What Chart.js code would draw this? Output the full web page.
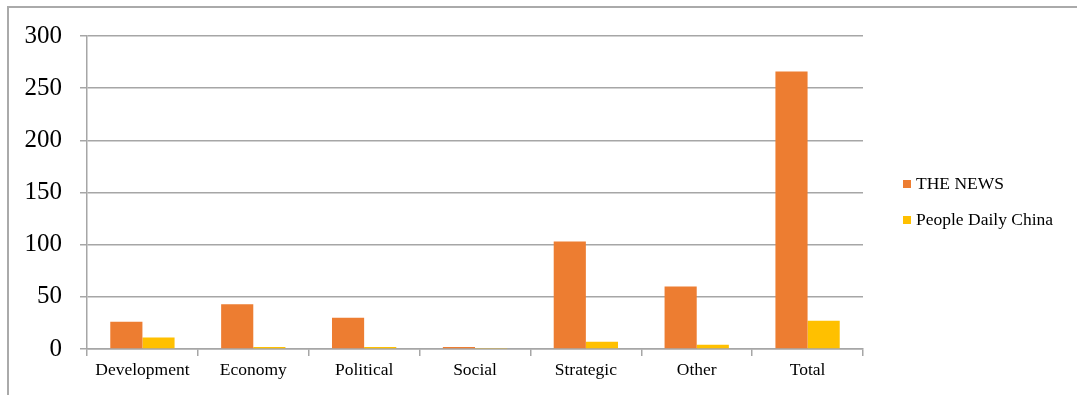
<!DOCTYPE html>
<html>
<head>
<meta charset="utf-8">
<script src="https://cdn.jsdelivr.net/npm/chart.js@4.4.1/dist/chart.umd.min.js"></script>
<style>
  html, body { margin: 0; padding: 0; background: #fff; }
  #wrap { position: relative; width: 1077px; height: 395px; overflow: hidden; }
  #frame { position: absolute; left: 7px; top: 6px; width: 1200px; height: 500px;
           border-top: 2px solid #aaa; border-left: 2px solid #aaa; box-sizing: border-box; }
  canvas { position: absolute; left: 0; top: 0; }
  #legend { position: absolute; left: 903px; top: 172px; font: 17.5px "Liberation Serif", serif; color: #000; }
  #legend .item { display: flex; align-items: center; height: 22px; margin-bottom: 14px; }
  #legend .sw { width: 8px; height: 8px; margin-right: 5px; margin-top: 1px; }
</style>
</head>
<body>
<div id="wrap">
  <div id="frame"></div>
  <canvas id="chart" width="1077" height="395"></canvas>
  <div id="legend"></div>
</div>
<script>
// Data
const categories = ['Development', 'Economy', 'Political', 'Social', 'Strategic', 'Other', 'Total'];
const seriesNames = ['THE NEWS', 'People Daily China'];
const theNews = [26, 43, 30, 2, 103, 60, 266];
const peopleDaily = [11, 2, 2, 1, 7, 4, 27];
const yTicks = [0, 50, 100, 150, 200, 250, 300];
const seriesColors = ['#ED7D31', '#FFC000'];

const gridColor = '#a6a6a6';
const serif = '"Liberation Serif", "Times New Roman", serif';

const ctx = document.getElementById('chart').getContext('2d');
const chart = new Chart(ctx, {
  type: 'bar',
  data: {
    labels: categories,
    datasets: [
      { label: seriesNames[0], data: theNews, backgroundColor: seriesColors[0] },
      { label: seriesNames[1], data: peopleDaily, backgroundColor: seriesColors[1] }
    ]
  },
  options: {
    responsive: false,
    animation: false,
    datasets: { bar: { categoryPercentage: 0.58, barPercentage: 1.0, borderWidth: 0 } },
    layout: { padding: { left: 0, top: 36, right: 1077 - 863, bottom: 0 } },
    plugins: { legend: { display: false }, tooltip: { enabled: false } },
    scales: {
      x: {
        grid: { drawOnChartArea: false, drawTicks: true, tickLength: 7, color: gridColor, lineWidth: 1.5 },
        border: { display: true, color: gridColor, width: 1.5 },
        ticks: { color: '#000', font: { family: serif, size: 17.5 }, padding: 4, maxRotation: 0 },
        afterFit: (s) => { s.height = 395 - 349; }
      },
      y: {
        min: yTicks[0],
        max: yTicks[yTicks.length - 1],
        afterBuildTicks: (s) => { s.ticks = yTicks.map(v => ({ value: v })); },
        grid: { color: gridColor, lineWidth: 1.5, tickLength: 7 },
        border: { display: true, color: gridColor, width: 1.5 },
        ticks: { color: '#000', font: { family: serif, size: 25 }, padding: 18 },
        afterFit: (s) => { s.width = 87; }
      }
    }
  }
});

// legend built from the dataset names and colours
const legend = document.getElementById('legend');
chart.data.datasets.forEach(ds => {
  const item = document.createElement('div');
  item.className = 'item';
  const sw = document.createElement('span');
  sw.className = 'sw';
  sw.style.background = ds.backgroundColor;
  const txt = document.createElement('span');
  txt.textContent = ds.label;
  item.appendChild(sw);
  item.appendChild(txt);
  legend.appendChild(item);
});
</script>
</body>
</html>
